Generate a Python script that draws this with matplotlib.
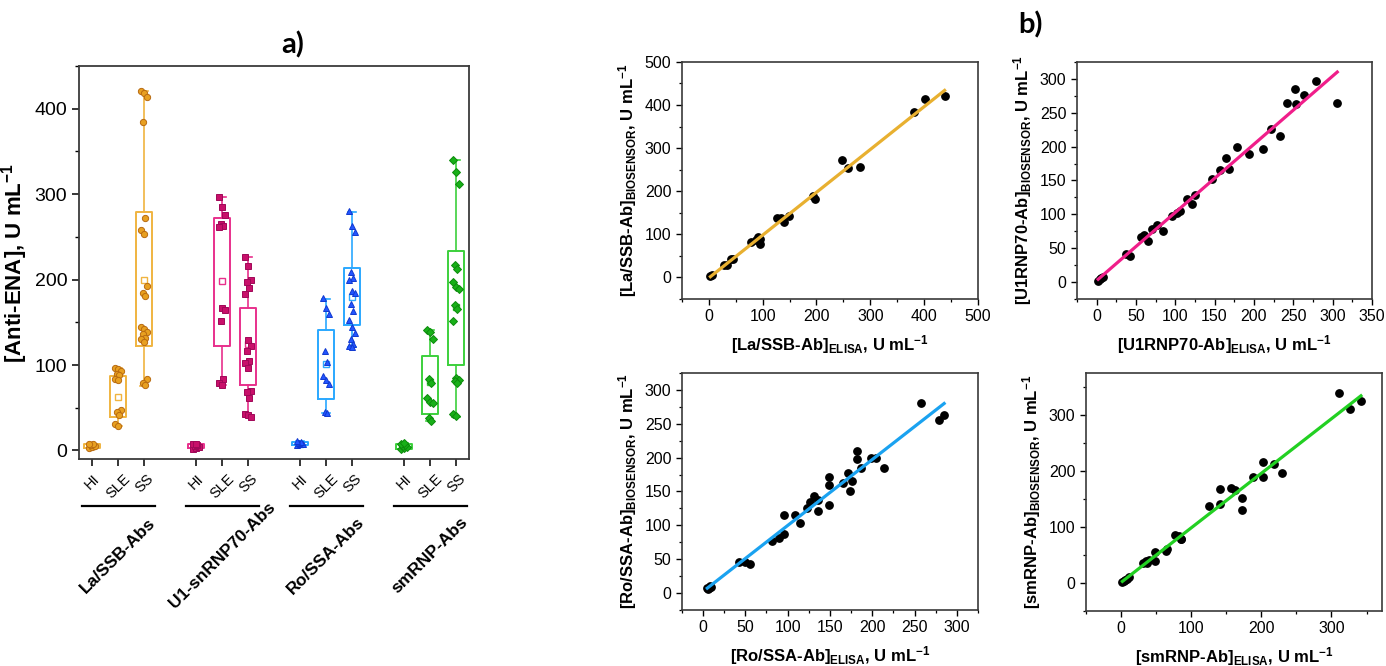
import matplotlib
matplotlib.use("Agg")
import matplotlib.pyplot as plt
import matplotlib.transforms as mtransforms
from matplotlib.ticker import MultipleLocator
import numpy as np

plt.rcParams['font.family'] = ['Liberation Sans', 'DejaVu Sans']
plt.rcParams['mathtext.fontset'] = 'custom'
plt.rcParams['mathtext.rm'] = 'Liberation Sans'
plt.rcParams['mathtext.bf'] = 'Liberation Sans:bold'
plt.rcParams['mathtext.default'] = 'bf'

# ---------- panel a data ----------
groups = ['La/SSB-Abs', 'U1-snRNP70-Abs', 'Ro/SSA-Abs', 'smRNP-Abs']
subgroups = ['HI', 'SLE', 'SS']

la_pts = [[3, 4, 5, 6, 7, 8],
          [97, 95, 93, 90, 88, 84, 83, 47, 45, 42, 31, 29],
          [421, 418, 414, 385, 272, 258, 253, 193, 184, 181, 145, 142, 139, 136, 132, 130, 127, 84, 79, 77]]
u1_pts = [[2, 3, 4, 5, 6, 7, 8],
          [297, 285, 276, 265, 263, 262, 167, 164, 152, 84, 79, 77],
          [226, 216, 200, 197, 190, 183, 129, 122, 116, 105, 102, 96, 70, 69, 61, 43, 41, 39]]
ro_pts = [[6, 7, 8, 9, 10, 11],
          [178, 167, 160, 116, 104, 87, 83, 78, 45, 44],
          [280, 263, 256, 209, 202, 199, 187, 184, 172, 163, 153, 144, 137, 130, 125, 122, 121]]
sm_pts = [[2, 3, 4, 5, 6, 7, 9],
          [141, 139, 130, 84, 79, 61, 57, 55, 38, 34],
          [340, 326, 312, 217, 213, 197, 191, 189, 170, 166, 152, 85, 83, 81, 79, 43, 40]]

# box stats: q1, q3, whisker low, whisker high, mean
la_box = [(3, 7, 3, 8, 5), (39, 87, 29, 97, 63), (122, 279, 76, 421, 200)]
u1_box = [(3, 7, 2, 8, 5), (122, 272, 77, 297, 198), (77, 167, 39, 226, 125)]
ro_box = [(6, 10, 6, 11, 8), (60, 141, 44, 177, 101), (147, 214, 121, 279, 180)]
sm_box = [(2, 7, 2, 9, 5), (43, 111, 35, 141, 80), (100, 233, 39, 340, 168)]

# ---------- panel b data ----------
la_elisa = [3, 6, 28, 33, 42, 45, 78, 87, 92, 96, 95, 127, 135, 140, 149, 193, 197, 248, 258, 280, 382, 402, 438]
la_bio = [3, 5, 29, 29, 44, 44, 83, 88, 95, 90, 77, 138, 138, 128, 143, 189, 181, 272, 253, 257, 384, 415, 420]

u1_elisa = [2, 4, 6, 8, 38, 43, 56, 60, 66, 70, 77, 85, 96, 102, 106, 115, 121, 125, 147, 157, 164, 168,
            179, 194, 212, 222, 233, 242, 252, 253, 264, 279, 306]
u1_bio = [2, 4, 6, 7, 42, 39, 67, 69, 61, 79, 85, 76, 97, 102, 105, 122, 116, 128, 152, 165, 183, 167,
          199, 189, 197, 226, 216, 264, 285, 263, 276, 297, 265]

ro_elisa = [5, 6, 7, 8, 9, 42, 50, 55, 82, 90, 96, 96, 109, 115, 123, 126, 131, 136, 136, 149, 149, 149,
            166, 171, 174, 176, 182, 182, 187, 198, 204, 214, 258, 279, 285]
ro_bio = [7, 6, 8, 10, 9, 46, 46, 43, 77, 81, 115, 87, 115, 104, 126, 135, 143, 137, 121, 171, 159, 130,
          162, 177, 151, 166, 209, 198, 185, 200, 200, 184, 280, 256, 263]

sm_elisa = [2, 4, 6, 9, 11, 32, 36, 40, 37, 48, 48, 64, 65, 77, 83, 85, 86, 126, 141, 141, 157, 163,
            172, 172, 188, 203, 203, 218, 229, 311, 327, 342]
sm_bio = [2, 4, 6, 8, 10, 35, 39, 42, 36, 55, 39, 57, 61, 85, 84, 78, 79, 138, 168, 141, 169, 166,
          152, 131, 189, 216, 190, 212, 196, 340, 311, 325]

fig = plt.figure(figsize=(13.86, 6.66), dpi=100)

spine_col = '#3a3a3a'

# ---------- panel a ----------
ax = fig.add_axes([0.057, 0.3108, 0.2814, 0.590])

sets = [
    (la_pts, la_box, '#F0B440', '#E8A020', '#B86A10', 'o', 4.5),
    (u1_pts, u1_box, '#E8308C', '#C8106A', '#A00858', 's', 4.0),
    (ro_pts, ro_box, '#2AA8FF', '#2255FF', '#1038D0', '^', 5.0),
    (sm_pts, sm_box, '#3CD03C', '#18B018', '#0C8A0C', 'D', 4.0),
]

for g, (pts, boxes, bcol, fcol, ecol, mk, ms) in enumerate(sets):
    stats = []
    positions = []
    for k in range(3):
        q1, q3, lo, hi, mean = boxes[k]
        stats.append(dict(med=np.median(pts[k]), q1=q1, q3=q3, whislo=lo, whishi=hi,
                          mean=mean, fliers=[]))
        positions.append(4 * g + k)
    ax.bxp(stats, positions=positions, widths=0.65, capwidths=0.3, showmeans=True,
           boxprops=dict(color=bcol, linewidth=1.4),
           whiskerprops=dict(color=bcol, linewidth=1.2),
           capprops=dict(color=bcol, linewidth=1.2),
           medianprops=dict(visible=False),
           meanprops=dict(marker='s', markerfacecolor='white', markeredgecolor=bcol,
                          markersize=4, markeredgewidth=1.0),
           zorder=2)
    for k in range(3):
        vals = np.array(pts[k])
        n = len(vals)
        off = ((np.arange(n) * 7) % 5 - 2) * 0.05
        ax.plot(4 * g + k + off, vals, linestyle='none', marker=mk, markersize=ms,
                markerfacecolor=fcol, markeredgecolor=ecol, markeredgewidth=0.7, zorder=3)

ax.set_xlim(-0.5, 14.5)
ax.set_ylim(-10, 450)
ax.set_xticks([4 * g + k for g in range(4) for k in range(3)])
ax.set_xticklabels(subgroups * 4, rotation=45, ha='center', fontsize=10.5)
ax.yaxis.set_major_locator(MultipleLocator(100))
ax.yaxis.set_minor_locator(MultipleLocator(50))
ax.tick_params(axis='y', which='major', labelsize=14, direction='out', length=5, width=1.1, colors='black')
ax.tick_params(axis='y', which='minor', direction='out', length=3, width=1.0)
ax.tick_params(axis='x', direction='out', length=5, width=1.1, pad=4)
for s in ax.spines.values():
    s.set_color(spine_col)
    s.set_linewidth(1.3)
ax.set_ylabel('[Anti-ENA], U mL$^{-1}$', fontsize=16, fontweight='bold')
ax.yaxis.set_label_coords(-0.125, 0.5)

trans = mtransforms.blended_transform_factory(ax.transData, ax.transAxes)
for g, name in enumerate(groups):
    c = 4 * g + 1
    ax.plot([c - 1.38, c + 1.42], [-0.12, -0.12], color='black', linewidth=1.6,
            transform=trans, clip_on=False)
    ax.text(c, -0.245, name, transform=trans, rotation=45, ha='center', va='center',
            fontsize=12.5, fontweight='bold')

fig.text(293 / 1386, 1 - 45 / 666, 'a)', fontsize=21, fontweight='bold', ha='center', va='center',
         family=['Lato', 'DejaVu Sans'])
fig.text(1030 / 1386, 1 - 25 / 666, 'b)', fontsize=21, fontweight='bold', ha='center', va='center',
         family=['Lato', 'DejaVu Sans'])

# ---------- panel b ----------
scat = [
    ([0.492, 0.551, 0.2136, 0.356], la_elisa, la_bio, '#E8B030', (-50, 500), (-50, 500), 100, 50, 100, 50,
     'La/SSB-Ab'),
    ([0.777, 0.551, 0.2128, 0.356], u1_elisa, u1_bio, '#F01E8A', (-25, 350), (-25, 325), 50, 25, 50, 25,
     'U1RNP70-Ab'),
    ([0.492, 0.0841, 0.2136, 0.356], ro_elisa, ro_bio, '#1AA2F0', (-25, 325), (-25, 325), 50, 25, 50, 25,
     'Ro/SSA-Ab'),
    ([0.7835, 0.0826, 0.2136, 0.357], sm_elisa, sm_bio, '#22D022', (-50, 372), (-50, 375), 100, 50, 100, 50,
     'smRNP-Ab'),
]

for rect, xe, yb, lcol, xl, yl, xmaj, xmin, ymaj, ymin, name in scat:
    bx = fig.add_axes(rect)
    xe = np.array(xe)
    yb = np.array(yb)
    bx.scatter(xe, yb, s=28, color='black', zorder=2)
    k, b0 = np.polyfit(xe, yb, 1)
    xx = np.array([xe.min(), xe.max()])
    bx.plot(xx, k * xx + b0, color=lcol, linewidth=2.3, zorder=3)
    bx.set_xlim(*xl)
    bx.set_ylim(*yl)
    bx.xaxis.set_major_locator(MultipleLocator(xmaj))
    bx.xaxis.set_minor_locator(MultipleLocator(xmin))
    bx.yaxis.set_major_locator(MultipleLocator(ymaj))
    bx.yaxis.set_minor_locator(MultipleLocator(ymin))
    bx.set_xticks([t for t in bx.get_xticks() if t >= 0 and t <= xl[1]])
    bx.set_yticks([t for t in bx.get_yticks() if t >= 0 and t <= yl[1]])
    bx.tick_params(which='major', labelsize=11.5, direction='out', length=4, width=1.0)
    bx.tick_params(which='minor', direction='out', length=2.5, width=0.9)
    for s in bx.spines.values():
        s.set_color(spine_col)
        s.set_linewidth(1.2)
    bx.set_xlabel('[' + name + ']$_{ELISA}$, U mL$^{-1}$', fontsize=12, fontweight='bold', labelpad=6)
    bx.set_ylabel('[' + name + ']$_{BIOSENSOR}$, U mL$^{-1}$', fontsize=12, fontweight='bold', labelpad=4)

fig.savefig('out.png', dpi=100)
